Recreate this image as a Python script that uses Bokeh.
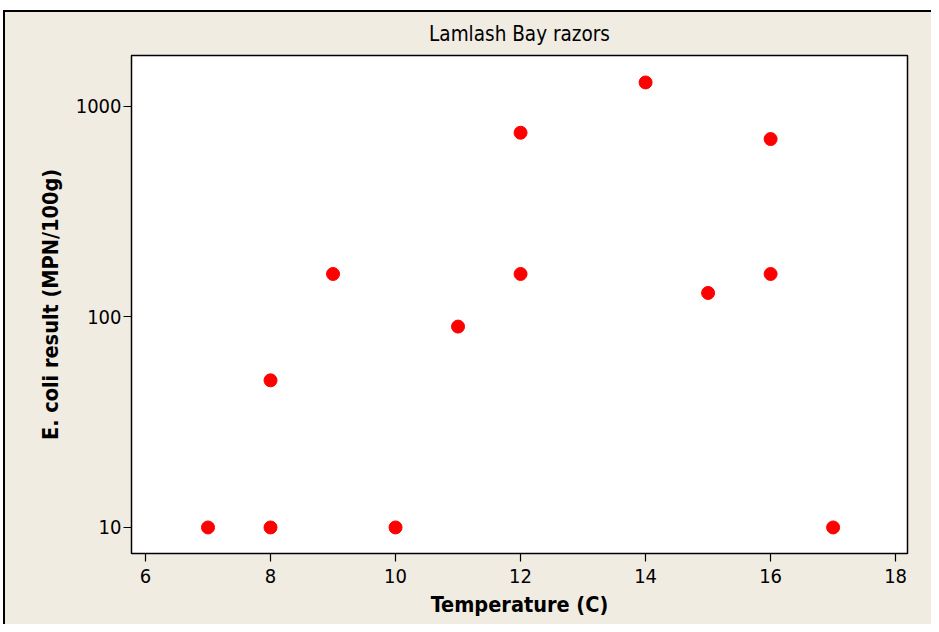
from bokeh.plotting import figure
from bokeh.models import FixedTicker, Range1d, CustomJSTickFormatter
from bokeh.embed import file_html
from bokeh.resources import INLINE

temperature = [7, 8, 8, 9, 10, 11, 12, 12, 14, 15, 16, 16, 17]
ecoli = [10, 10, 50, 160, 10, 90, 160, 750, 1300, 130, 160, 700, 10]
x_ticks = [6, 8, 10, 12, 14, 16, 18]
y_ticks = [10, 100, 1000]

BG = "#F0ECE2"
FONT = "DejaVu Sans Condensed"

p = figure(width=931, height=624, output_backend="svg", toolbar_location=None,
           y_axis_type="log",
           x_range=Range1d(5.776, 18.19), y_range=Range1d(7.52, 1746),
           title="Lamlash Bay razors",
           min_border_left=131, min_border_right=24, min_border_top=55, min_border_bottom=71)
p.background_fill_color = "white"
p.border_fill_color = BG
p.border_fill_alpha = 0
p.outline_line_color = "black"
p.outline_line_width = 1.5
p.grid.visible = False

p.styles = {
    "background": ("linear-gradient(to bottom, white 10px, transparent 10px), "
                   "linear-gradient(to right, white 3px, black 3px, black 5px, transparent 5px), "
                   "linear-gradient(to bottom, white 10px, black 10px, black 12px, %s 12px)" % BG),
}

p.title.align = "center"
p.title.text_font = FONT
p.title.text_font_style = "normal"
p.title.text_font_size = "20.5px"
p.title.text_color = "black"
p.title.offset = 0
p.title.standoff = 20

p.scatter(temperature, ecoli, size=13, color="#FF0000", line_color="#FF0000")

for ax in (p.xaxis[0], p.yaxis[0]):
    ax.axis_line_color = None
    ax.major_tick_line_color = "black"
    ax.major_tick_line_width = 1.2
    ax.major_tick_out = 8
    ax.major_tick_in = 0
    ax.minor_tick_line_color = None
    ax.major_label_text_font = FONT
    ax.major_label_text_font_size = "20px"
    ax.major_label_text_color = "black"
    ax.axis_label_text_font = FONT
    ax.axis_label_text_font_style = "bold"
    ax.axis_label_text_font_size = "21.5px"
    ax.axis_label_text_color = "black"

p.xaxis[0].ticker = FixedTicker(ticks=x_ticks)
p.yaxis[0].ticker = FixedTicker(ticks=y_ticks)
p.yaxis[0].formatter = CustomJSTickFormatter(code="return String(Math.round(tick));")
p.xaxis[0].axis_label = "Temperature (C)"
p.yaxis[0].axis_label = "E. coli result (MPN/100g)"
p.xaxis[0].major_label_standoff = 7
p.yaxis[0].major_label_standoff = 2
p.xaxis[0].axis_label_standoff = 6
p.yaxis[0].axis_label_standoff = 10

open("out.html", "w").write(file_html(p, INLINE))
